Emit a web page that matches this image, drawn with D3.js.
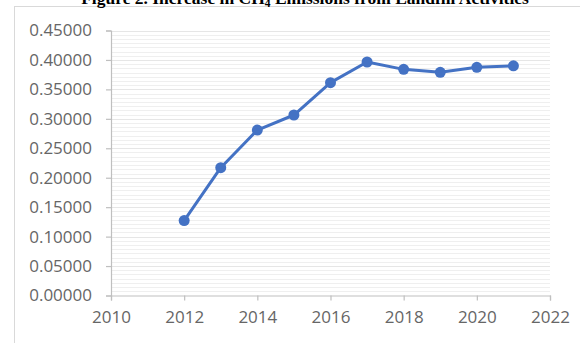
<!DOCTYPE html>
<html>
<head>
<meta charset="utf-8">
<script src="https://cdn.jsdelivr.net/npm/d3@7"></script>
<style>
  html, body { margin: 0; padding: 0; background: #fff; }
  svg { display: block; }
</style>
</head>
<body>
<svg id="chart" width="587" height="343"></svg>
<script>
// CH4 emissions from landfill activities, by year
const years = [2012, 2013, 2014, 2015, 2016, 2017, 2018, 2019, 2020, 2021];
const emissions = [0.1273, 0.2170, 0.2810, 0.3065, 0.3614, 0.3965, 0.3840, 0.3790, 0.3875, 0.3900];
const xTicks = [2010, 2012, 2014, 2016, 2018, 2020, 2022];
const yTicks = [0, 0.05, 0.10, 0.15, 0.20, 0.25, 0.30, 0.35, 0.40, 0.45];

const svg = d3.select("#chart");
const W = 587, H = 343;
const plotLeft = 111, plotRight = 550, plotTop = 30.5, plotBottom = 295.5;

const x = d3.scaleLinear().domain([2010, 2022]).range([plotLeft, plotRight]);
const y = d3.scaleLinear().domain([0, 0.45]).range([plotBottom, plotTop]);

// chart frame (top and left edges)
svg.append("line").attr("x1", 14).attr("x2", 580).attr("y1", 6.5).attr("y2", 6.5)
  .attr("stroke", "#d9d9d9").attr("stroke-width", 1);
svg.append("line").attr("x1", 14.5).attr("x2", 14.5).attr("y1", 6).attr("y2", H)
  .attr("stroke", "#d9d9d9").attr("stroke-width", 1);

// title
const title = svg.append("text")
  .attr("x", 305).attr("y", 4)
  .attr("text-anchor", "middle")
  .attr("font-family", "'Liberation Serif', 'Times New Roman', serif")
  .attr("font-weight", "bold")
  .attr("font-size", 17.5)
  .attr("fill", "#000");
title.append("tspan").text("Figure 2. Increase in CH");
title.append("tspan").attr("font-size", 11.5).attr("dy", 3).text("4");
title.append("tspan").attr("dy", -3).text(" Emissions from Landfill Activities");

// minor gridlines between major ticks
const minorPerMajor = 7;
const minorVals = [];
for (let i = 0; i < yTicks.length - 1; i++) {
  const a = yTicks[i], b = yTicks[i + 1];
  for (let k = 1; k < minorPerMajor; k++) minorVals.push(a + (b - a) * k / minorPerMajor);
}
svg.append("g").selectAll("line").data(minorVals).join("line")
  .attr("x1", plotLeft).attr("x2", plotRight)
  .attr("y1", d => Math.round(y(d)) + 0.5).attr("y2", d => Math.round(y(d)) + 0.5)
  .attr("stroke", "#efefef").attr("stroke-width", 1);

// major gridlines
svg.append("g").selectAll("line").data(yTicks.filter(d => d > 0)).join("line")
  .attr("x1", plotLeft).attr("x2", plotRight)
  .attr("y1", d => Math.round(y(d)) + 0.5).attr("y2", d => Math.round(y(d)) + 0.5)
  .attr("stroke", "#e6e6e6").attr("stroke-width", 1);

const fontFam = "'Open Sans', 'Noto Sans', sans-serif";

// y axis
const yAxis = svg.append("g")
  .attr("transform", `translate(${plotLeft},0)`)
  .call(d3.axisLeft(y).tickValues(yTicks).tickFormat(d3.format(".5f")).tickSize(5).tickPadding(14));
yAxis.select(".domain").attr("stroke", "#bfbfbf").attr("stroke-width", 1.2);
yAxis.selectAll(".tick line").attr("stroke", "#bfbfbf").attr("stroke-width", 1.2);
yAxis.selectAll("text")
  .attr("font-family", fontFam).attr("font-size", 17).attr("fill", "#666666");

// x axis
const xAxis = svg.append("g")
  .attr("transform", `translate(0,${plotBottom})`)
  .call(d3.axisBottom(x).tickValues(xTicks).tickFormat(d3.format("d")).tickSize(5).tickPadding(10));
xAxis.select(".domain").attr("stroke", "#bfbfbf").attr("stroke-width", 1.2);
xAxis.selectAll(".tick line").attr("stroke", "#bfbfbf").attr("stroke-width", 1.2);
xAxis.selectAll("text")
  .attr("font-family", fontFam).attr("font-size", 17).attr("fill", "#666666");

// series line
const pts = years.map((yr, i) => [yr, emissions[i]]);
svg.append("path")
  .datum(pts)
  .attr("fill", "none")
  .attr("stroke", "#4472c4")
  .attr("stroke-width", 3)
  .attr("stroke-linejoin", "round")
  .attr("d", d3.line().x(d => x(d[0])).y(d => y(d[1])));

// markers
svg.append("g").selectAll("circle").data(pts).join("circle")
  .attr("cx", d => x(d[0])).attr("cy", d => y(d[1]))
  .attr("r", 5.5)
  .attr("fill", "#4472c4");
</script>
</body>
</html>
